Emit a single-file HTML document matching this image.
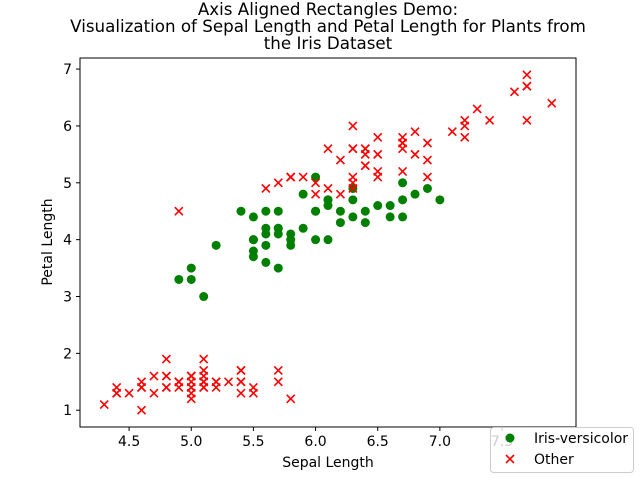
<!DOCTYPE html>
<html><head><meta charset="utf-8"><style>
body{margin:0;background:#fff;}
svg text{font-family:"DejaVu Sans","Liberation Sans",sans-serif;}
</style></head><body>
<svg id="chart" width="640" height="480">
<g font-size="16.7" text-anchor="middle" fill="#000">
<text x="328" y="15">Axis Aligned Rectangles Demo:</text>
<text x="328" y="32">Visualization of Sepal Length and Petal Length for Plants from</text>
<text x="328" y="49">the Iris Dataset</text>
</g>
<rect x="80" y="58" width="496" height="369" fill="none" stroke="#000" stroke-width="1"/>
<g id="xticks"></g>
<g id="yticks"></g>
<g id="marks"></g>
<text x="328" y="467" font-size="14" text-anchor="middle">Sepal Length</text>
<text x="52" y="242" font-size="14" text-anchor="middle" transform="rotate(-90 52 242)">Petal Length</text>
<g>
<rect x="490.5" y="427.5" width="143" height="45" rx="3" fill="#fff" fill-opacity="0.8" stroke="#ccc"/>
<circle cx="510" cy="438" r="4.5" fill="green"/>
<text x="534" y="443" font-size="14">Iris-versicolor</text>
<path d="M506,455 l8,8 M514,455 l-8,8" stroke="red" stroke-width="1.6"/>
<text x="534" y="464" font-size="14">Other</text>
</g>
</svg>
<script>
const xTicks=[4.5,5.0,5.5,6.0,6.5,7.0,7.5];
const yTicks=[1,2,3,4,5,6,7];
const versicolorSepal=[7.0,6.4,6.9,5.5,6.5,5.7,6.3,4.9,6.6,5.2,5.0,5.9,6.0,6.1,5.6,6.7,5.6,5.8,6.2,5.6,5.9,6.1,6.3,6.1,6.4,6.6,6.8,6.7,6.0,5.7,5.5,5.5,5.8,6.0,5.4,6.0,6.7,6.3,5.6,5.5,5.5,6.1,5.8,5.0,5.6,5.7,5.7,6.2,5.1,5.7];
const versicolorPetal=[4.7,4.5,4.9,4.0,4.6,4.5,4.7,3.3,4.6,3.9,3.5,4.2,4.0,4.7,3.6,4.4,4.5,4.1,4.5,3.9,4.8,4.0,4.9,4.7,4.3,4.4,4.8,5.0,4.5,3.5,3.8,3.7,3.9,5.1,4.5,4.5,4.7,4.4,4.1,4.0,4.4,4.6,4.0,3.3,4.2,4.2,4.2,4.3,3.0,4.1];
const otherSepal=[5.1,4.9,4.7,4.6,5.0,5.4,4.6,5.0,4.4,4.9,5.4,4.8,4.8,4.3,5.8,5.7,5.4,5.1,5.7,5.1,5.4,5.1,4.6,5.1,4.8,5.0,5.0,5.2,5.2,4.7,4.8,5.4,5.2,5.5,4.9,5.0,5.5,4.9,4.4,5.1,5.0,4.5,4.4,5.0,5.1,4.8,5.1,4.6,5.3,5.0,
6.3,5.8,7.1,6.3,6.5,7.6,4.9,7.3,6.7,7.2,6.5,6.4,6.8,5.7,5.8,6.4,6.5,7.7,7.7,6.0,6.9,5.6,7.7,6.3,6.7,7.2,6.2,6.1,6.4,7.2,7.4,7.9,6.4,6.3,6.1,7.7,6.3,6.4,6.0,6.9,6.7,6.9,5.8,6.8,6.7,6.7,6.3,6.5,6.2,5.9];
const otherPetal=[1.4,1.4,1.3,1.5,1.4,1.7,1.4,1.5,1.4,1.5,1.5,1.6,1.4,1.1,1.2,1.5,1.3,1.4,1.7,1.5,1.7,1.5,1.0,1.7,1.9,1.6,1.6,1.5,1.4,1.6,1.6,1.5,1.5,1.4,1.5,1.2,1.3,1.5,1.3,1.5,1.3,1.3,1.3,1.6,1.9,1.4,1.6,1.4,1.5,1.4,
6.0,5.1,5.9,5.6,5.8,6.6,4.5,6.3,5.8,6.1,5.1,5.3,5.5,5.0,5.1,5.3,5.5,6.7,6.9,5.0,5.7,4.9,6.7,4.9,5.7,6.0,4.8,4.9,5.6,5.8,6.1,6.4,5.6,5.1,5.6,6.1,5.6,5.5,4.8,5.4,5.6,5.1,5.1,5.9,5.7,5.2,5.0,5.2,5.4,5.1];
const X0=4.105,X1=8.095,Y0=0.705,Y1=7.195;
function sx(v){return 80+(v-X0)/(X1-X0)*496;}
function sy(v){return 427-(v-Y0)/(Y1-Y0)*369;}
const NS="http://www.w3.org/2000/svg";
function mk(t,a,p){const e=document.createElementNS(NS,t);for(const k in a)e.setAttribute(k,a[k]);p.appendChild(e);return e;}
const gx=document.getElementById('xticks'),gy=document.getElementById('yticks'),gm=document.getElementById('marks');
xTicks.forEach(v=>{const x=sx(v);
 const l=mk('line',{x1:x,x2:x,y1:427,y2:431,stroke:'#000'},gx);
 
 
 const t=mk('text',{x:x,y:446,'font-size':14,'text-anchor':'middle'},gx);t.textContent=v.toFixed(1);
 
 });
yTicks.forEach(v=>{const y=sy(v);
 const l=mk('line',{x1:76,x2:80,y1:y,y2:y,stroke:'#000'},gy);
 
 
 const t=mk('text',{x:72,y:y+5,'font-size':14,'text-anchor':'end'},gy);t.textContent=v;
 
 });
versicolorSepal.forEach((v,i)=>{
 const c=mk('circle',{cx:sx(v),cy:sy(versicolorPetal[i]),r:4.5,fill:'green'},gm);
 
 });
otherSepal.forEach((v,i)=>{const x=sx(v),y=sy(otherPetal[i]);
 const p=mk('path',{d:`M${x-4},${y-4}L${x+4},${y+4}M${x+4},${y-4}L${x-4},${y+4}`,stroke:'red','stroke-width':1.6},gm);
 
 });
</script>
</body></html>
